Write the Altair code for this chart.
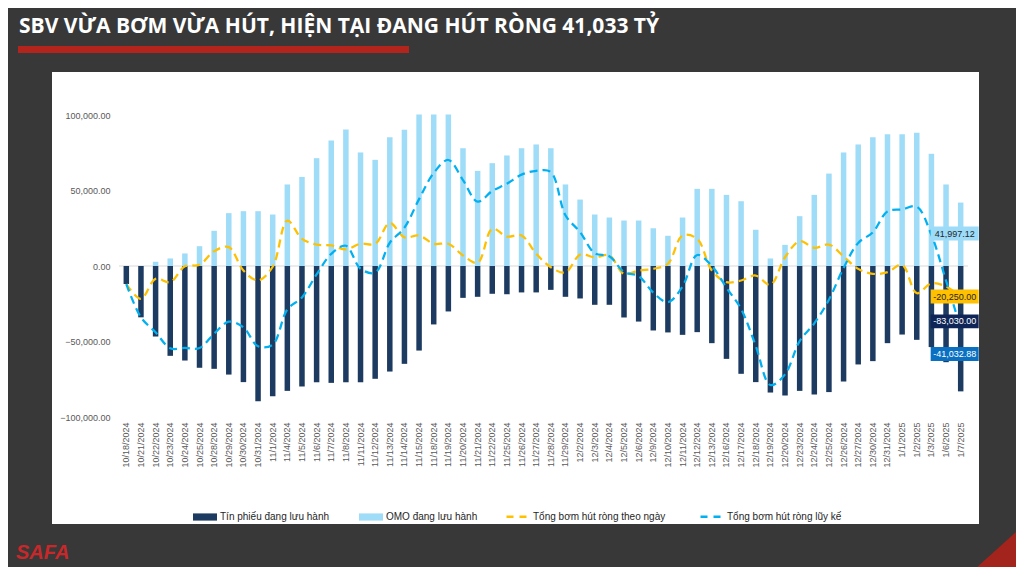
import altair as alt
import pandas as pd

# Ngày giao dịch
dates = [
    "10/18/2024", "10/21/2024", "10/22/2024", "10/23/2024", "10/24/2024", "10/25/2024",
    "10/28/2024", "10/29/2024", "10/30/2024", "10/31/2024", "11/1/2024", "11/4/2024",
    "11/5/2024", "11/6/2024", "11/7/2024", "11/8/2024", "11/11/2024", "11/12/2024",
    "11/13/2024", "11/14/2024", "11/15/2024", "11/18/2024", "11/19/2024", "11/20/2024",
    "11/21/2024", "11/22/2024", "11/25/2024", "11/26/2024", "11/27/2024", "11/28/2024",
    "11/29/2024", "12/2/2024", "12/3/2024", "12/4/2024", "12/5/2024", "12/6/2024",
    "12/9/2024", "12/10/2024", "12/11/2024", "12/12/2024", "12/13/2024", "12/16/2024",
    "12/17/2024", "12/18/2024", "12/19/2024", "12/20/2024", "12/23/2024", "12/24/2024",
    "12/25/2024", "12/26/2024", "12/27/2024", "12/30/2024", "12/31/2024", "1/1/2025",
    "1/2/2025", "1/3/2025", "1/6/2025", "1/7/2025",
]

# Tín phiếu đang lưu hành (âm = hút)
tin_phieu = [
    -12000, -34000, -46700, -59500, -62600, -67400, -68100, -71900, -76900, -89500,
    -86200, -82700, -79800, -77000, -77400, -77000, -77000, -74700, -69900, -64800,
    -56000, -38700, -30100, -21100, -20400, -18400, -18700, -17500, -17500, -15800,
    -20400, -21500, -25700, -25700, -34100, -36800, -42700, -44000, -45600, -43800,
    -51100, -61500, -71400, -76900, -83800, -85800, -82700, -85100, -83500, -76500,
    -65200, -63000, -51100, -45400, -48900, -53700, -63700, -83030.00,
]

# OMO đang lưu hành
omo = [
    0, 0, 2800, 5000, 8300, 13100, 23300, 35000, 36300, 36300,
    34100, 54000, 59000, 71400, 83100, 90400, 75200, 70300, 85300, 90200,
    100300, 100300, 100300, 78000, 63000, 68100, 73200, 78000, 80500, 78000,
    54000, 44000, 34100, 32100, 30100, 30100, 25000, 20000, 32100, 51100,
    51100, 47100, 42900, 24000, 5000, 14000, 33000, 47100, 61200, 75200,
    80500, 85300, 87300, 87300, 88200, 74300, 54000, 41997.12,
]

# Tổng bơm hút ròng theo ngày
daily_net = [
    -12000, -21700, -8500, -10700, -200, 800, 9800, 12500, -3000, -9600,
    -500, 30100, 18000, 14200, 13600, 11000, 14700, 14700, 28500, 19000,
    20200, 14700, 14700, 7000, 2100, 24600, 19500, 20200, 8100, -800,
    -4300, 7500, 5800, 7000, -5200, -3000, -1900, 1500, 20200, 18000,
    -3000, -10700, -9600, -6300, -12500, 5800, 16400, 12000, 14200, 6300,
    -1900, -5200, -4100, 800, -18000, -11400, -13600, -20250.00,
]

# Tổng bơm hút ròng lũy kế
cumulative_net = [
    -12000, -34000, -43900, -54500, -54300, -54300, -44800, -36900, -40600, -53200,
    -52100, -28700, -20800, -5600, 8000, 13400, -1800, -4400, 15400, 25400,
    44300, 61600, 70200, 56900, 42600, 49700, 54500, 60500, 63000, 62200,
    33600, 22500, 8400, 6400, -4000, -6700, -17700, -24000, -13500, 7300,
    0, -14400, -28500, -52900, -78800, -71800, -49700, -38000, -22300, -1300,
    15300, 22300, 36200, 37500, 39300, 20600, -9700, -41032.88,
]

TITLE = "SBV VỪA BƠM VỪA HÚT, HIỆN TẠI ĐANG HÚT RÒNG 41,033 TỶ"
TP_NAME = "Tín phiếu đang lưu hành"
OMO_NAME = "OMO đang lưu hành"
DAILY_NAME = "Tổng bơm hút ròng theo ngày"
CUM_NAME = "Tổng bơm hút ròng lũy kế"

FONT = "Liberation Sans"
BOX = "M-1,-0.29L1,-0.29L1,0.29L-1,0.29Z"

bars_df = pd.concat([
    pd.DataFrame({"date": dates, "value": tin_phieu, "series": TP_NAME}),
    pd.DataFrame({"date": dates, "value": omo, "series": OMO_NAME}),
])
lines_df = pd.concat([
    pd.DataFrame({"date": dates, "value": daily_net, "series": DAILY_NAME}),
    pd.DataFrame({"date": dates, "value": cumulative_net, "series": CUM_NAME}),
])
deco_df = pd.DataFrame({"title": [TITLE], "logo": ["SAFA"]})

x_enc = alt.X(
    "date:N", sort=dates, title=None,
    axis=alt.Axis(labelAngle=-90, labelFontSize=9, labelColor="#595959", labelFont=FONT,
                  labelPadding=5, ticks=False, tickSize=0, domain=False, labelOverlap=False,
                  zindex=1),
)
y_enc = alt.Y(
    "value:Q", stack=None, title=None,
    scale=alt.Scale(domain=[-100000, 100000], nice=False),
    axis=alt.Axis(values=[-100000, -50000, 0, 50000, 100000], format=",.2f", grid=False,
                  domain=False, ticks=False, tickSize=0, labelPadding=9, labelFontSize=9,
                  labelColor="#595959", labelFont=FONT, zindex=1),
)

# Nền trắng của khung biểu đồ
panel = alt.Chart(deco_df).mark_rect(color="white").encode(
    x=alt.value(-67), x2=alt.value(860), y=alt.value(-43), y2=alt.value(409)
)

zero_line = alt.Chart(deco_df).mark_rule(color="#d9d9d9", strokeWidth=1).encode(y=alt.datum(0))

bars = alt.Chart(bars_df).mark_bar(size=5.5).encode(
    x=x_enc,
    y=y_enc,
    color=alt.Color(
        "series:N",
        scale=alt.Scale(domain=[TP_NAME, OMO_NAME], range=["#1d3b60", "#9fdcf7"]),
        legend=alt.Legend(
            title=None, orient="none", direction="horizontal", legendX=74, legendY=390,
            symbolType="M-1,-0.3L1,-0.3L1,0.3L-1,0.3Z", symbolSize=576, symbolStrokeWidth=0,
            labelFont=FONT, labelFontSize=10, labelColor="#262626", labelOffset=3,
            columnPadding=30, zindex=2,
        ),
    ),
)

lines = alt.Chart(lines_df).mark_line(
    interpolate="catmull-rom", strokeDash=[8, 5], strokeWidth=2.25
).encode(
    x=x_enc,
    y=y_enc,
    stroke=alt.Stroke(
        "series:N",
        scale=alt.Scale(domain=[DAILY_NAME, CUM_NAME], range=["#ffc000", "#00b0f0"]),
        legend=alt.Legend(
            title=None, orient="none", direction="horizontal", legendX=386, legendY=390,
            symbolType="stroke", symbolSize=400, symbolStrokeWidth=2.5, symbolDash=[7, 6],
            labelFont=FONT, labelFontSize=10, labelColor="#262626", labelOffset=5,
            columnPadding=29, zindex=2,
        ),
    ),
)

# Nhãn giá trị cuối kỳ
label_specs = [
    (omo[-1], "#9ddcf9", "#262626", 31),
    (daily_net[-1], "#ffc000", "#262626", 0),
    (tin_phieu[-1], "#0f2557", "white", -70),
    (cumulative_net[-1], "#0a70c2", "white", 26),
]
label_layers = []
for value, bg, fg, dy in label_specs:
    ldf = pd.DataFrame({"date": [dates[-1]], "value": [value], "label": [f"{value:,.2f}"]})
    label_layers.append(
        alt.Chart(ldf).mark_point(shape=BOX, size=2304, filled=True, opacity=1, color=bg,
                                  strokeWidth=0, xOffset=-6, yOffset=dy)
        .encode(x=x_enc, y=y_enc)
    )
    label_layers.append(
        alt.Chart(ldf).mark_text(dx=-6, dy=dy, fontSize=9, font=FONT, color=fg)
        .encode(x=x_enc, y=y_enc, text="label:N")
    )

title = alt.Chart(deco_df).mark_text(
    align="left", baseline="alphabetic", font="Open Sans", fontWeight="bold",
    fontSize=21, color="white"
).encode(x=alt.value(-100), y=alt.value(-82), text="title:N")

red_bar = alt.Chart(deco_df).mark_rect(color="#b3241c").encode(
    x=alt.value(-101), x2=alt.value(290), y=alt.value(-69), y2=alt.value(-62)
)

logo = alt.Chart(deco_df).mark_text(
    align="left", baseline="alphabetic", font=FONT, fontWeight="bold", fontStyle="italic",
    fontSize=20, color="#c8282a"
).encode(x=alt.value(-103), y=alt.value(444), text="logo:N")

corner = alt.Chart(deco_df).mark_point(
    shape="M1,-0.9L1,0.9L-1,0.9Z", size=3136, filled=True, opacity=1, color="#a3231d",
    strokeWidth=0
).encode(x=alt.value(877), y=alt.value(435))

chart = alt.layer(
    panel, zero_line, bars, lines, *label_layers, title, red_bar, logo, corner
).resolve_scale(
    color="independent"
).properties(
    width=849,
    height=302,
    padding={"left": 111, "top": 107, "right": 48, "bottom": 150},
    autosize=alt.AutoSizeParams(type="none"),
    background="#383838",
).configure_view(stroke=None)

chart.save("out.html", embed_options={"renderer": "svg", "actions": False})
